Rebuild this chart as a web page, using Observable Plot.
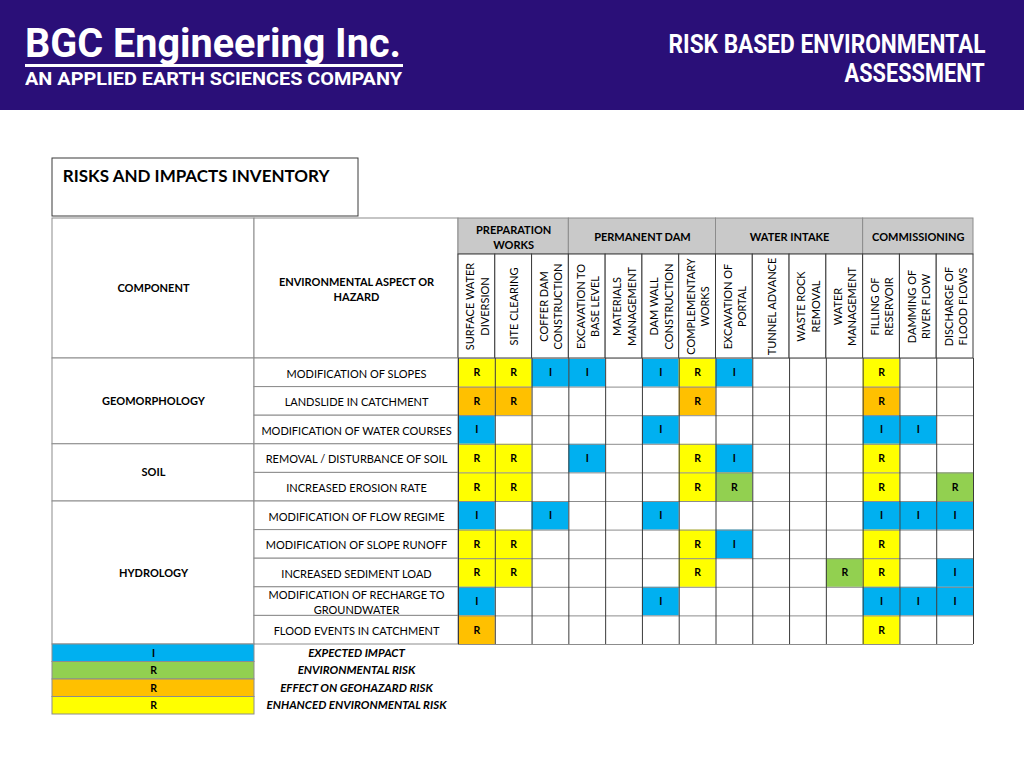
<!DOCTYPE html>
<html>
<head>
<meta charset="utf-8">
<script src="https://cdn.jsdelivr.net/npm/d3@7"></script>
<script src="https://cdn.jsdelivr.net/npm/@observablehq/plot@0.6"></script>
<style>
  html, body { margin: 0; padding: 0; background: #ffffff; }
  #page { position: relative; width: 1024px; height: 768px; overflow: hidden; background: #fff; }
  #banner { position: absolute; left: 0; top: 0; width: 1024px; height: 110px; background: #2a0f78; }
  .bn { position: absolute; color: #fff; font-family: Roboto, "Liberation Sans", sans-serif; font-weight: bold; line-height: 1; white-space: nowrap; }
  #logo { left: 25px; top: 24px; font-size: 40px; transform-origin: left top; }
  #logoLine { position: absolute; left: 25px; top: 64px; width: 378px; height: 2.5px; background: #fff; }
  #tagline { left: 25px; top: 70px; font-size: 18px; transform-origin: left top; }
  #title1 { right: 39px; top: 31px; font-size: 26px; transform-origin: right top; }
  #title2 { right: 39px; top: 60px; font-size: 26px; transform-origin: right top; }
  #chart { position: absolute; left: 0; top: 110px; }
</style>
</head>
<body>
<div id="page">
  <div id="banner">
    <div class="bn" id="logo" data-w="376">BGC Engineering Inc.</div>
    <div id="logoLine"></div>
    <div class="bn" id="tagline" data-w="377">AN APPLIED EARTH SCIENCES COMPANY</div>
    <div class="bn" id="title1" data-w="317">RISK BASED ENVIRONMENTAL</div>
    <div class="bn" id="title2" data-w="140">ASSESSMENT</div>
  </div>
  <div id="chart"></div>
</div>
<script>
// ---------------- DATA ----------------
const tableTitle = "RISKS AND IMPACTS INVENTORY";
const componentHeader = "COMPONENT";
const aspectHeader = "ENVIRONMENTAL ASPECT OR\nHAZARD";

const phases = ["PREPARATION\nWORKS", "PERMANENT DAM", "WATER INTAKE", "COMMISSIONING"];
const phaseSizes = [3, 4, 4, 3];

const activities = [
  "SURFACE WATER\nDIVERSION",
  "SITE CLEARING",
  "COFFER DAM\nCONSTRUCTION",
  "EXCAVATION TO\nBASE LEVEL",
  "MATERIALS\nMANAGEMENT",
  "DAM WALL\nCONSTRUCTION",
  "COMPLEMENTARY\nWORKS",
  "EXCAVATION OF\nPORTAL",
  "TUNNEL ADVANCE",
  "WASTE ROCK\nREMOVAL",
  "WATER\nMANAGEMENT",
  "FILLING OF\nRESERVOIR",
  "DAMMING OF\nRIVER FLOW",
  "DISCHARGE OF\nFLOOD FLOWS"
];

const components = ["GEOMORPHOLOGY", "SOIL", "HYDROLOGY"];
const componentSizes = [3, 2, 5];

const aspects = [
  "MODIFICATION OF SLOPES",
  "LANDSLIDE IN CATCHMENT",
  "MODIFICATION OF WATER COURSES",
  "REMOVAL / DISTURBANCE OF SOIL",
  "INCREASED EROSION RATE",
  "MODIFICATION OF FLOW REGIME",
  "MODIFICATION OF SLOPE RUNOFF",
  "INCREASED SEDIMENT LOAD",
  "MODIFICATION OF RECHARGE TO\nGROUNDWATER",
  "FLOOD EVENTS IN CATCHMENT"
];

// codes per cell: I = expected impact, G = environmental risk,
// O = effect on geohazard risk, Y = enhanced environmental risk, . = none
const ratings = [
  "YYII.IYI...Y..",
  "OO....O....O..",
  "I....I.....II.",
  "YY.I..YI...Y..",
  "YY....YG...Y.G",
  "I.I..I.....III",
  "YY....YI...Y..",
  "YY....Y...GY.I",
  "I....I.....III",
  "O..........Y.."
];

const legendCodes = ["I", "G", "O", "Y"];
const legendLetters = ["I", "R", "R", "R"];
const legendLabels = ["EXPECTED IMPACT", "ENVIRONMENTAL RISK", "EFFECT ON GEOHAZARD RISK", "ENHANCED ENVIRONMENTAL RISK"];
const codeLetters = {I: "I", G: "R", O: "R", Y: "R"};

// ---------------- LAYOUT ----------------
const colors = {I: "#00b0f0", G: "#92d050", O: "#ffc000", Y: "#ffff00"};
const gridX0 = 458, gridX1 = 973;          // px of data grid
const gridY0 = 248, gridY1 = 534;          // px inside svg (page y - 110)
const colW = (gridX1 - gridX0) / activities.length;
const rowH = (gridY1 - gridY0) / aspects.length;
const ux = px => (px - gridX0) / colW;       // page px -> column units
const uy = py => (py - 110 - gridY0) / rowH; // page px -> row units

const xLeft = ux(52), xAspect = ux(254), xTitleR = ux(358);
const yPhaseTop = uy(218), yPhaseBot = uy(254);
const yTitleTop = uy(158), yTitleBot = uy(216);
const legendRowH = uy(661.5) - uy(644);

// ---------------- DERIVED TABLES ----------------
let acc = 0;
const phaseCells = phases.map((p, i) => { const c = {label: p, x1: acc, x2: acc + phaseSizes[i]}; acc += phaseSizes[i]; return c; });
acc = 0;
const compCells = components.map((c, i) => { const o = {label: c, y1: acc, y2: acc + componentSizes[i]}; acc += componentSizes[i]; return o; });
const actCells = activities.map((a, i) => ({label: a, x1: i, x2: i + 1}));
const aspectCells = aspects.map((a, j) => ({label: a, y1: j, y2: j + 1}));
const cells = [];
ratings.forEach((row, j) => row.split("").forEach((code, i) => {
  if (code !== ".") cells.push({i, j, code, letter: codeLetters[code]});
}));
const legend = legendCodes.map((c, k) => ({code: c, letter: legendLetters[k], label: legendLabels[k],
  y1: aspects.length + k * legendRowH, y2: aspects.length + (k + 1) * legendRowH}));
const colBounds = d3.range(activities.length + 1);
const rowBounds = d3.range(aspects.length + 1);

const lineDark = "#3a3a3a", lineGray = "#8c8c8c";

const chart = Plot.plot({
  width: 1024,
  height: 658,
  margin: 0,
  x: {type: "linear", domain: [0, activities.length], range: [gridX0, gridX1], axis: null},
  y: {type: "linear", domain: [0, aspects.length], range: [gridY0, gridY1], axis: null},
  style: {fontFamily: "Lato, 'Open Sans', sans-serif", background: "#ffffff", color: "#000"},
  marks: [
    // title box
    Plot.rect([{}], {x1: xLeft, x2: xTitleR, y1: yTitleTop, y2: yTitleBot, fill: "white", stroke: lineDark, strokeWidth: 1}),
    Plot.text([tableTitle], {x: xLeft + 0.28, y: yTitleTop + 0.62, text: d => d, textAnchor: "start", fontSize: 17, fontWeight: "bold", fill: "#000"}),
    // left headers
    Plot.rect([{x1: xLeft, x2: xAspect}, {x1: xAspect, x2: 0}], {x1: "x1", x2: "x2", y1: yPhaseTop, y2: 0, fill: "white", stroke: lineGray}),
    Plot.text([componentHeader], {x: (xLeft + xAspect) / 2, y: (yPhaseTop) / 2, text: d => d, fontSize: 11, fontWeight: "bold", fill: "#000"}),
    Plot.text([aspectHeader], {x: xAspect / 2, y: yPhaseTop / 2, text: d => d, fontSize: 11, fontWeight: "bold", lineHeight: 1.35, fill: "#000"}),
    // phase header
    Plot.rect(phaseCells, {x1: "x1", x2: "x2", y1: yPhaseTop, y2: yPhaseBot, fill: "#c9c9c9", stroke: lineGray}),
    Plot.text(phaseCells, {x: d => (d.x1 + d.x2) / 2, y: (yPhaseTop + yPhaseBot) / 2, text: "label", fontSize: 11, fontWeight: "bold", lineHeight: 1.35, fill: "#000"}),
    // activity header
    Plot.rect(actCells, {x1: "x1", x2: "x2", y1: yPhaseBot, y2: 0, fill: "white", stroke: lineDark}),
    Plot.text(actCells, {x: d => (d.x1 + d.x2) / 2, y: yPhaseBot / 2, text: "label", rotate: -90, fontSize: 11, lineHeight: 1.3, fill: "#000"}),
    // component column
    Plot.rect(compCells, {x1: xLeft, x2: xAspect, y1: "y1", y2: "y2", fill: "white", stroke: lineGray}),
    Plot.text(compCells, {x: (xLeft + xAspect) / 2, y: d => (d.y1 + d.y2) / 2, text: "label", fontSize: 11, fontWeight: "bold", fill: "#000"}),
    // aspect column
    Plot.rect(aspectCells, {x1: xAspect, x2: 0, y1: "y1", y2: "y2", fill: "white", stroke: lineGray}),
    Plot.text(aspectCells, {x: xAspect / 2, y: d => (d.y1 + d.y2) / 2, text: "label", fontSize: 11, lineHeight: 1.35, fill: "#000"}),
    // coloured cells
    Plot.rect(cells, {x1: "i", x2: d => d.i + 1, y1: "j", y2: d => d.j + 1, fill: d => colors[d.code]}),
    // grid lines
    Plot.ruleY(rowBounds, {x1: 0, x2: activities.length, stroke: lineGray, strokeWidth: 1}),
    Plot.ruleX(colBounds, {y1: 0, y2: aspects.length, stroke: lineDark, strokeWidth: 1}),
    Plot.text(cells, {x: d => d.i + 0.5, y: d => d.j + 0.5, text: "letter", fontSize: 10.5, fontWeight: "bold", fill: "#000"}),
    // legend
    Plot.rect(legend, {x1: xLeft, x2: xAspect, y1: "y1", y2: "y2", fill: d => colors[d.code], stroke: lineGray}),
    Plot.text(legend, {x: (xLeft + xAspect) / 2, y: d => (d.y1 + d.y2) / 2, text: "letter", fontSize: 10.5, fontWeight: "bold", fill: "#000"}),
    Plot.text(legend, {x: xAspect / 2, y: d => (d.y1 + d.y2) / 2, text: "label", fontSize: 11.5, fontWeight: "bold", fontStyle: "italic", fill: "#000"})
  ]
});
document.getElementById("chart").appendChild(chart);

// fit banner text widths (condensed look of the original typeface)
document.querySelectorAll(".bn[data-w]").forEach(el => {
  const target = +el.dataset.w;
  const w = el.getBoundingClientRect().width;
  if (w > 0) el.style.transform = `scaleX(${target / w})`;
});
</script>
</body>
</html>
